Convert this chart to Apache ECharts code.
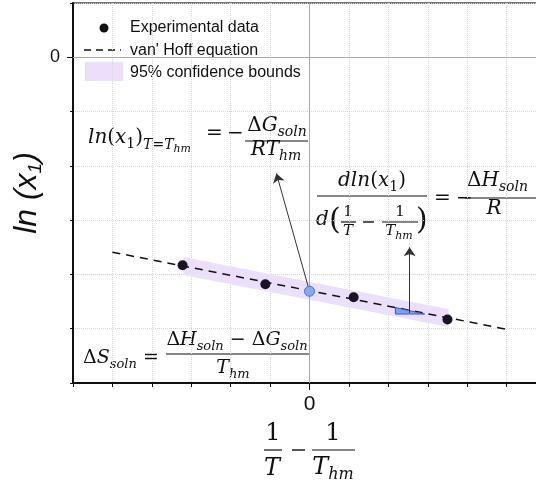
<!DOCTYPE html>
<html>
<head>
<meta charset="utf-8">
<script src="https://cdn.jsdelivr.net/npm/echarts@6/dist/echarts.min.js"></script>
<style>
  html, body { margin: 0; padding: 0; background: #fff; }
  #chart { width: 536px; height: 486px; }
</style>
</head>
<body>
<div id="chart"></div>
<script>
// x = 1/T - 1/Thm (arbitrary units), y = ln(x1)
const expX = [-3.22, -1.12, 1.12, 3.50];
const expY = [-3.83, -4.18, -4.42, -4.83];
const hmPoint = [0, -4.31];
const fitX = [-5, 5];
const fitY = [-3.59, -5.01];
const bandX = [-3.2, 3.53];
const bandLow = [-4.01, -4.97];
const bandHigh = [-3.68, -4.64];
const slopeX = [2.18, 2.92];
const slopeY = [-4.61, -4.73];
const arrowFrom = [[0, -4.31], [2.54, -4.71]];
const arrowTo = [[-0.84, -2.14], [2.54, -3.50]];
const xLabelAt = [0];
const yLabelAt = [0];
const legendNames = ['Experimental data', "van' Hoff equation", '95% confidence bounds'];

const ink = '#111';
const MF = '"DejaVu Serif"';
const mctx = document.createElement('canvas').getContext('2d');
function fnt(s, it) { return (it ? 'italic ' : '') + s + 'px ' + MF; }
function tw(t, s, it) { mctx.font = fnt(s, it); return mctx.measureText(t).width; }

// piece = [text, size, italic, shiftDown]
function row(x, base, ps) {
  const out = [];
  ps.forEach(p => {
    const size = p[1];
    out.push({
      type: 'text', x: x, y: base + (p[3] || 0) - 0.36 * size,
      style: { text: p[0], font: fnt(size, p[2]), fill: ink, align: 'left', verticalAlign: 'middle' }
    });
    x += tw(p[0], size, p[2]);
  });
  return out;
}
function rowC(cx, base, ps) {
  const w = ps.reduce((a, p) => a + tw(p[0], p[1], p[2]), 0);
  return row(cx - w / 2, base, ps);
}
function sym(x, cy, t, size) {
  return { type: 'text', x: x, y: cy,
    style: { text: t, font: fnt(size || 20, false), fill: ink, align: 'left', verticalAlign: 'middle' } };
}
function bar(x1, x2, y) {
  return { type: 'line', shape: { x1: x1, y1: y, x2: x2, y2: y }, style: { stroke: ink, lineWidth: 1.2 } };
}

const S = 20, s = 14;
let eq = [];
// ln(x1)_{T=Thm} = -dG/(R Thm)
eq = eq.concat(row(88, 145, [['ln', S, 1], ['(', S, 0], ['x', S, 1], ['1', s, 0, 4], [')', S, 0],
  ['T', s, 1, 5], ['=', s, 0, 5], ['T', s, 1, 5], ['hm', 11, 1, 8]]));
eq.push(sym(206, 134, '='), sym(227, 134, '−'));
eq = eq.concat(rowC(277, 133, [['Δ', S, 0], ['G', S, 1], ['soln', s, 1, 4]]));
eq.push(bar(245, 308, 141));
eq = eq.concat(rowC(276, 157, [['R', S, 1], ['T', S, 1], ['hm', s, 1, 4]]));

// d ln(x1) / d(1/T - 1/Thm) = -dH/R
eq = eq.concat(rowC(372, 188, [['d', S, 1], ['ln', S, 1], ['(', S, 0], ['x', S, 1], ['1', s, 0, 4], [')', S, 0]]));
eq.push(bar(317, 427, 196));
eq = eq.concat(row(316, 227, [['d', S, 1]]));
eq.push(sym(329, 221, '(', 30), sym(416, 221, ')', 30));
eq = eq.concat(rowC(348, 218, [['1', 15, 0]]));
eq.push(bar(341, 356, 222));
eq = eq.concat(rowC(348, 237, [['T', 15, 1]]));
eq.push({ type: 'line', shape: { x1: 363, y1: 222, x2: 374, y2: 222 }, style: { stroke: ink, lineWidth: 1.4 } });
eq = eq.concat(rowC(400, 218, [['1', 15, 0]]));
eq.push(bar(382, 418, 222));
eq = eq.concat(rowC(399, 237, [['T', 15, 1], ['hm', 11, 1, 3]]));
eq.push(sym(434, 199, '='), sym(456, 199, '−'));
eq = eq.concat(row(467, 188, [['Δ', S, 0], ['H', S, 1], ['soln', s, 1, 4]]));
eq.push(bar(465, 540, 198));
eq = eq.concat(rowC(494, 216, [['R', S, 1]]));

// dS = (dH - dG)/Thm
const S2 = 19, s2 = 13;
eq = eq.concat(row(83, 365, [['Δ', S2, 0], ['S', S2, 1], ['soln', s2, 1, 4]]));
eq.push(sym(143, 358, '=', 19));
eq = eq.concat(rowC(237, 347, [['Δ', S2, 0], ['H', S2, 1], ['soln', s2, 1, 4], [' − ', S2, 0],
  ['Δ', S2, 0], ['G', S2, 1], ['soln', s2, 1, 4]]));
eq.push(bar(166, 309, 354));
eq = eq.concat(rowC(233, 375, [['T', S2, 1], ['hm', s2, 1, 4]]));

// x axis title: 1/T - 1/Thm
eq = eq.concat(rowC(273, 442, [['1', 24, 0]]));
eq.push(bar(264, 282, 450));
eq = eq.concat(rowC(272, 477, [['T', 24, 1]]));
eq.push({ type: 'line', shape: { x1: 292, y1: 450, x2: 305, y2: 450 }, style: { stroke: ink, lineWidth: 1.4 } });
eq = eq.concat(rowC(333, 442, [['1', 24, 0]]));
eq.push(bar(312, 355, 450));
eq = eq.concat(rowC(333, 476, [['T', 24, 1], ['hm', 16, 1, 5]]));

// legend
const LF = '16px "Liberation Sans"';
const legend = [
  { type: 'circle', shape: { cx: 104, cy: 28, r: 4.5 }, style: { fill: '#111' } },
  { type: 'line', shape: { x1: 84, y1: 50, x2: 121, y2: 50 }, style: { stroke: '#111', lineWidth: 1.5, lineDash: [7, 5] } },
  { type: 'rect', shape: { x: 85, y: 62, width: 38, height: 19 }, style: { fill: '#ebdffb' } }
];
legendNames.forEach((n, i) => {
  legend.push({ type: 'text', x: 130, y: 28 + i * 22.5,
    style: { text: n, font: LF, fill: ink, align: 'left', verticalAlign: 'middle' } });
});

function polygon(pts, fill, stroke) {
  return {
    type: 'custom', z: 3, silent: true, data: [[0, 0]],
    renderItem: function (params, api) {
      return { type: 'polygon', shape: { points: pts.map(p => api.coord(p)) },
        style: { fill: fill, stroke: stroke || 'none', lineWidth: 1 } };
    }
  };
}

const band = polygon([[bandX[0], bandHigh[0]], [bandX[1], bandHigh[1]], [bandX[1], bandLow[1]], [bandX[0], bandLow[0]]], '#ebdffb');
band.z = 1;
const tri = polygon([[slopeX[0], slopeY[0]], [slopeX[0], slopeY[1]], [slopeX[1], slopeY[1]]], '#7f9ff0', '#3c5bc0');

const chart = echarts.init(document.getElementById('chart'), null, { renderer: 'canvas' });
chart.setOption({
  animation: false,
  grid: { left: 73, top: 3, width: 473, height: 380, show: true, borderColor: '#444', borderWidth: 1.5,
    containLabel: false, outerBoundsMode: 'none' },
  xAxis: [{
    type: 'value', min: -6, max: 6, interval: 1,
    axisLine: { onZero: false, lineStyle: { color: ink, width: 2 } },
    axisTick: { length: 4, lineStyle: { color: ink } },
    axisLabel: { formatter: v => xLabelAt.includes(v) ? String(v) : '', fontSize: 21, color: ink,
      fontFamily: '"Liberation Sans"', margin: 11 },
    splitLine: { show: true, lineStyle: { type: 'dotted', color: '#d6d6d6' } }
  }, {
    type: 'value', min: -6, max: 6, position: 'bottom', offset: 0,
    axisLine: { show: false, onZero: false },
    axisTick: { show: true, length: 7, customValues: xLabelAt, lineStyle: { color: ink } },
    axisLabel: { show: false }, splitLine: { show: false }
  }],
  yAxis: [{
    type: 'value', min: -6, max: 1, interval: 1,
    name: '{a|ln (x}{s|1}{a|)}', nameLocation: 'middle', nameGap: 28, nameMoveOverlap: false,
    nameTextStyle: { rich: {
      a: { fontSize: 32, fontStyle: 'italic', fontFamily: '"Liberation Sans"', color: ink },
      s: { fontSize: 19, fontStyle: 'italic', fontFamily: '"Liberation Sans"', color: ink, padding: [16, 0, 0, 0] }
    } },
    axisLine: { onZero: false, lineStyle: { color: ink, width: 2 } },
    axisTick: { length: 3, lineStyle: { color: ink } },
    axisLabel: { formatter: v => yLabelAt.includes(v) ? String(v) : '', fontSize: 18, color: ink,
      fontFamily: '"Liberation Sans"', margin: 13 },
    splitLine: { show: true, lineStyle: { type: 'dotted', color: '#d6d6d6' } }
  }, {
    type: 'value', min: -6, max: 1, position: 'left', offset: 0,
    axisLine: { show: false, onZero: false },
    axisTick: { show: true, length: 6, customValues: yLabelAt, lineStyle: { color: ink } },
    axisLabel: { show: false }, splitLine: { show: false }
  }],
  series: [
    band,
    {
      name: legendNames[1], type: 'line', z: 2, symbol: 'none', silent: true,
      data: fitX.map((x, i) => [x, fitY[i]]),
      lineStyle: { color: '#111', width: 1.5, type: [8, 6] },
      markLine: {
        silent: true, symbol: 'none', label: { show: false }, animation: false,
        lineStyle: { color: '#a8a8a8', width: 1, type: 'solid' },
        data: [{ xAxis: 0 }, { yAxis: 0 }]
      }
    },
    tri,
    {
      type: 'line', z: 3, symbol: 'none', silent: true, data: arrowFrom,
      lineStyle: { width: 0, opacity: 0 },
      markLine: {
        silent: true, symbol: ['none', 'arrow'], symbolSize: 9, label: { show: false }, animation: false,
        lineStyle: { color: '#333', width: 1, type: 'solid' },
        data: arrowFrom.map((f, i) => [{ coord: f }, { coord: arrowTo[i] }])
      }
    },
    {
      name: legendNames[0], type: 'scatter', z: 4, symbol: 'circle', symbolSize: 10,
      data: expX.map((x, i) => [x, expY[i]]),
      itemStyle: { color: '#1b1226', opacity: 1 }
    },
    {
      type: 'scatter', z: 5, symbol: 'circle', symbolSize: 10, data: [hmPoint],
      itemStyle: { color: '#86a8f2', borderColor: '#4d6fd8', borderWidth: 1, opacity: 1 }
    }
  ],
  graphic: { elements: legend.concat(eq) }
});
</script>
</body>
</html>
